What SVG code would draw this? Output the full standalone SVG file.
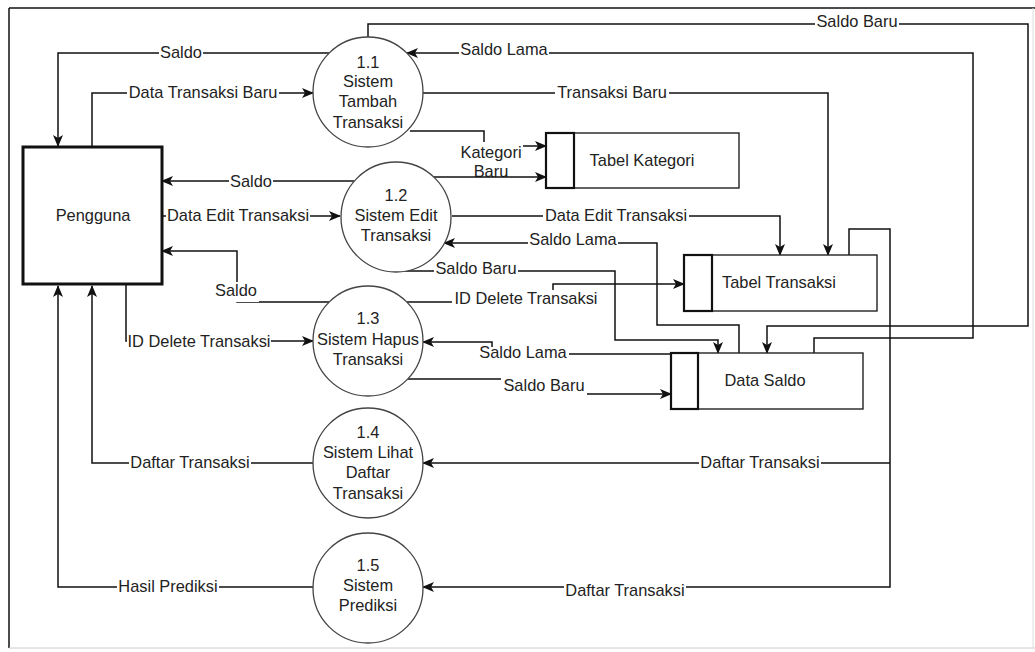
<svg xmlns="http://www.w3.org/2000/svg" width="1035" height="652" viewBox="0 0 1035 652">
<style>
  text { font-family: "Liberation Sans", Arial, sans-serif; font-size: 16.4px; fill: #222; text-anchor: middle; dominant-baseline: central; }
  .ln { fill: none; stroke: #111; stroke-width: 1.5; }
  .arr { marker-end: url(#ah); }
  .bg { fill: #fff; stroke: none; }
  .proc { fill: #fff; stroke: #444; stroke-width: 1.3; }
  .store { fill: #fff; stroke: #222; stroke-width: 1.4; }
  .storel { fill: #fff; stroke: #111; stroke-width: 2.2; }
  .ext { fill: #fff; stroke: #111; stroke-width: 3; }
</style>
<defs>
  <marker id="ah" viewBox="0 0 12 10" refX="11" refY="5" markerWidth="12" markerHeight="10" markerUnits="userSpaceOnUse" orient="auto">
    <path d="M0,0 L12,5 L0,10 L3,5 Z" fill="#111"/>
  </marker>
</defs>
<rect width="1035" height="652" fill="#fff"/>
<g id="frame">
  <line x1="9" y1="8" x2="1035" y2="8" stroke="#111" stroke-width="1.5"/>
  <line x1="9" y1="8" x2="9" y2="648" stroke="#111" stroke-width="1.5"/>
  <line x1="9" y1="648" x2="1035" y2="648" stroke="#ccc" stroke-width="1"/>
  <line x1="1033" y1="8" x2="1033" y2="648" stroke="#ddd" stroke-width="1"/>
</g>
<g id="connectors">
  <path class="ln arr" d="M329,53 H58 V146"/>
  <rect class="bg" x="159" y="43" width="44" height="20"/><text x="181" y="52">Saldo</text>

  <path class="ln arr" d="M92,147 V93 H313"/>
  <rect class="bg" x="127" y="83" width="152" height="20"/><text x="203" y="92">Data Transaksi Baru</text>

  <path class="ln arr" d="M368,37 V24 H1028 V326 H767 V353"/>
  <rect class="bg" x="815" y="12" width="84" height="20"/><text x="857" y="21">Saldo Baru</text>

  <path class="ln arr" d="M814,353 V338 H973 V53 H407"/>
  <rect class="bg" x="459" y="40" width="90" height="20"/><text x="504" y="49">Saldo Lama</text>

  <path class="ln arr" d="M423,93 H828 V255"/>
  <rect class="bg" x="555" y="83" width="114" height="20"/><text x="612" y="92">Transaksi Baru</text>

  <path class="ln arr" d="M410,131 H484 V146 H546"/>
  <rect class="bg" x="459" y="142" width="64" height="40"/>
  <text x="491" y="152">Kategori</text>
  <text x="491" y="171">Baru</text>

  <path class="ln arr" d="M354,181 H162"/>
  <rect class="bg" x="229" y="171" width="44" height="20"/><text x="251" y="181">Saldo</text>
  <path class="ln arr" d="M434,177 H546"/>

  <path class="ln arr" d="M162,216 H340"/>
  <rect class="bg" x="166" y="206" width="144" height="20"/><text x="238" y="215">Data Edit Transaksi</text>

  <path class="ln arr" d="M452,216 H780 V255"/>
  <rect class="bg" x="543" y="206" width="146" height="20"/><text x="616" y="215">Data Edit Transaksi</text>

  <path class="ln arr" d="M739,353 V325 H657 V243 H444"/>
  <rect class="bg" x="528" y="230" width="90" height="18"/><text x="573" y="239">Saldo Lama</text>

  <path class="ln arr" d="M405,271 H615 V340 H718 V353"/>
  <rect class="bg" x="434" y="259" width="84" height="18"/><text x="476" y="268">Saldo Baru</text>

  <path class="ln arr" d="M329,302 H237 V251 H162"/>
  <rect class="bg" x="213" y="282" width="46" height="20"/><text x="236" y="290">Saldo</text>

  <path class="ln arr" d="M126,284 V341 H313"/>
  <rect class="bg" x="127" y="332" width="144" height="20"/><text x="199" y="341">ID Delete Transaksi</text>

  <path class="ln arr" d="M407,302 H553 V284 H684"/>
  <rect class="bg" x="452" y="290" width="148" height="18"/><text x="526" y="298">ID Delete Transaksi</text>

  <path class="ln arr" d="M671,354 H492 V342 H423"/>
  <rect class="bg" x="478" y="347" width="91" height="14"/><text x="523" y="352">Saldo Lama</text>

  <path class="ln arr" d="M408,379 H543 V394 H671"/>
  <rect class="bg" x="501" y="377" width="86" height="18"/><text x="544" y="385">Saldo Baru</text>

  <path class="ln arr" d="M313,463 H92 V286"/>
  <rect class="bg" x="129" y="453" width="122" height="20"/><text x="190" y="462">Daftar Transaksi</text>

  <path class="ln arr" d="M849,255 V229 H890 V587 H423"/>
  <path class="ln arr" d="M890,463 H423"/>
  <rect class="bg" x="699" y="453" width="122" height="20"/><text x="760" y="462">Daftar Transaksi</text>
  <rect class="bg" x="564" y="580" width="122" height="20"/><text x="625" y="590">Daftar Transaksi</text>

  <path class="ln arr" d="M313,587 H58 V286"/>
  <rect class="bg" x="117" y="577" width="102" height="20"/><text x="168" y="586">Hasil Prediksi</text>
</g>
<g id="pengguna">
  <rect class="ext" x="23" y="147" width="139" height="137"/>
  <text x="93" y="215">Pengguna</text>
</g>
<g id="p11">
  <circle class="proc" cx="368" cy="92" r="55"/>
  <text x="368" y="62">1.1</text>
  <text x="368" y="81">Sistem</text>
  <text x="368" y="101">Tambah</text>
  <text x="368" y="122">Transaksi</text>
</g>
<g id="p12">
  <circle class="proc" cx="396" cy="217" r="55"/>
  <text x="396" y="195">1.2</text>
  <text x="396" y="215">Sistem Edit</text>
  <text x="396" y="235">Transaksi</text>
</g>
<g id="p13">
  <circle class="proc" cx="368" cy="341" r="55"/>
  <text x="368" y="318">1.3</text>
  <text x="368" y="339">Sistem Hapus</text>
  <text x="368" y="359">Transaksi</text>
</g>
<g id="p14">
  <circle class="proc" cx="368" cy="463" r="55"/>
  <text x="368" y="432">1.4</text>
  <text x="368" y="452">Sistem Lihat</text>
  <text x="368" y="472">Daftar</text>
  <text x="368" y="493">Transaksi</text>
</g>
<g id="p15">
  <circle class="proc" cx="368" cy="588" r="55"/>
  <text x="368" y="565">1.5</text>
  <text x="368" y="585">Sistem</text>
  <text x="368" y="605">Prediksi</text>
</g>
<g id="tabel-kategori">
  <rect class="store" x="546" y="133" width="193" height="55"/>
  <rect class="storel" x="546" y="133" width="28" height="55"/>
  <text x="642" y="160">Tabel Kategori</text>
</g>
<g id="tabel-transaksi">
  <rect class="store" x="684" y="255" width="193" height="56"/>
  <rect class="storel" x="684" y="255" width="28" height="56"/>
  <text x="779" y="282">Tabel Transaksi</text>
</g>
<g id="data-saldo">
  <rect class="store" x="671" y="353" width="192" height="56"/>
  <rect class="storel" x="671" y="353" width="27" height="56"/>
  <text x="765" y="380">Data Saldo</text>
</g>
</svg>
